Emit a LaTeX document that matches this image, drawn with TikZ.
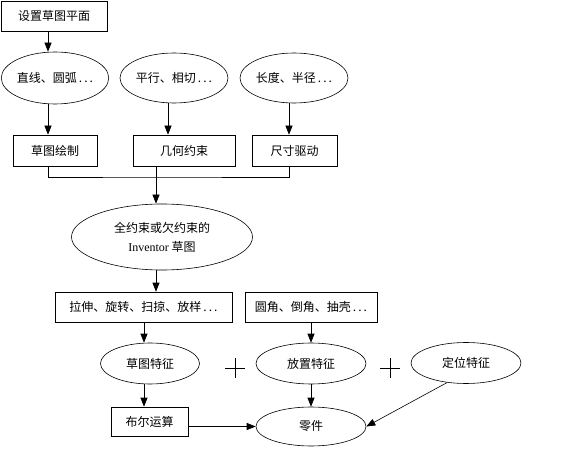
\documentclass[tikz,border=0pt]{standalone}
\usepackage{fontspec}
\setmainfont{Liberation Serif}
\newfontfamily\cjk{Noto Sans CJK SC}
\usetikzlibrary{shapes.geometric,arrows.meta}

\tikzset{
  box/.style={draw, rectangle, inner sep=0pt, font=\cjk\fontsize{12}{14}\selectfont},
  oval/.style={draw, ellipse, inner sep=0pt, font=\cjk\fontsize{12}{14}\selectfont},
  arr/.style={-{Triangle[width=7pt,length=9pt]}},
}
\newcommand{\etc}{\,.\,.\,.}

\begin{document}
\begin{tikzpicture}[x=1pt, y=-1pt, line width=0.6pt]
\useasboundingbox (0,0) rectangle (565,449);
% top: sketch plane and sketch elements
\node[box, minimum width=106, minimum height=30] (plane) at (54,16) {设置草图平面};
\node[oval, minimum width=105, minimum height=52] (lines) at (55,78) {直线、圆弧\etc};
\node[oval, minimum width=108, minimum height=50] (geo) at (174,78) {平行、相切\etc};
\node[oval, minimum width=108, minimum height=50] (dims) at (294,78) {长度、半径\etc};
\node[box, minimum width=84, minimum height=31] (draw) at (55,150.5) {草图绘制};
\node[box, minimum width=102, minimum height=31] (cons) at (184,150.5) {几何约束};
\node[box, minimum width=85, minimum height=31] (drive) at (294.5,150.5) {尺寸驱动};
% sketch
\node[oval, minimum width=181, minimum height=66, align=center] (sketch) at (162,237)
  {全约束或欠约束的\\[5pt]{\rmfamily Inventor} 草图};
% features
\node[box, minimum width=177, minimum height=30] (ops) at (143.5,307) {拉伸、旋转、扫掠、放样\etc};
\node[box, minimum width=132, minimum height=30] (mods) at (311,307) {圆角、倒角、抽壳\etc};
\node[oval, minimum width=99, minimum height=41] (skf) at (150,363.5) {草图特征};
\node[oval, minimum width=110, minimum height=41] (plf) at (311,363.5) {放置特征};
\node[oval, minimum width=110, minimum height=41] (wf) at (466,363) {定位特征};
\node[box, minimum width=77, minimum height=29] (bool) at (149.5,421.5) {布尔运算};
\node[oval, minimum width=110, minimum height=39] (part) at (311,426.5) {零件};
% plus signs
\coordinate (plusa) at (235,368);
\coordinate (plusb) at (390,368);
\foreach \p in {plusa,plusb}
  \draw (\p) +(-10,0) -- +(10,0) (\p) +(0,-10) -- +(0,10);

% connectors
\coordinate (xa) at (48,0);
\coordinate (xb) at (168,0);
\coordinate (xc) at (289,0);
\coordinate (xe) at (144,0);
\coordinate (j) at (156,177);
\draw[arr] (plane.south -| xa) -- (lines.north -| xa);
\draw[arr] (lines.south -| xa) -- (draw.north -| xa);
\draw[arr] (geo.south -| xb) -- (cons.north -| xb);
\draw[arr] (dims.south -| xc) -- (drive.north -| xc);
\draw (draw.south -| xa) |- (j) -| (drive.south -| xc);
\draw (cons.south -| j) -- (j);
\draw[arr] (j) -- (sketch.north -| j);
\draw[arr] (sketch.south -| j) -- (ops.north -| j);
\draw[arr] (ops.south -| xe) -- (skf.north -| xe);
\draw[arr] (mods.south) -- (plf.north);
\draw[arr] (skf.south -| xe) -- (bool.north -| xe);
\draw[arr] (plf.south) -- (part.north);
\draw[arr] (bool.east |- part) -- (part.west);
\draw[arr] (wf.226) -- (part.east);
\end{tikzpicture}
\end{document}
